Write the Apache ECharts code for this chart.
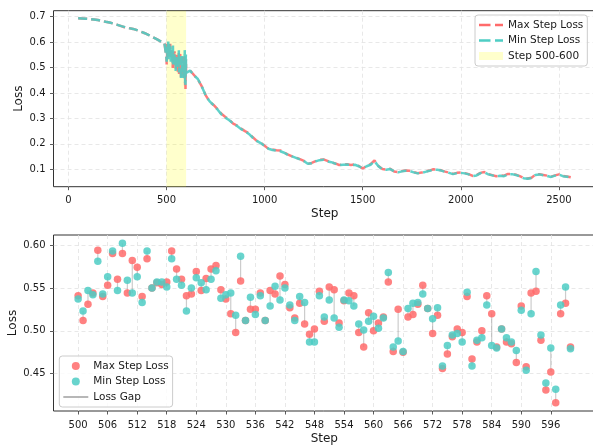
<!DOCTYPE html>
<html><head><meta charset="utf-8">
<script src="https://cdn.jsdelivr.net/npm/echarts@6/dist/echarts.min.js"></script>
<style>html,body{margin:0;padding:0;background:#fff}#c{width:593px;height:445px}</style>
</head><body><div id="c"></div>
<script>
// ---------- data ----------
const preSteps = [50,70,90,110,130,150,170,190,210,230,250,270,290,310,330,350,370,390,410,430,450,470,490];
const preMax = [0.694,0.693,0.692,0.691,0.689,0.687,0.684,0.680,0.677,0.673,0.668,0.663,0.657,0.655,0.652,0.647,0.641,0.635,0.628,0.620,0.612,0.603,0.594];
const preMin = [0.694,0.693,0.692,0.691,0.689,0.687,0.684,0.680,0.677,0.673,0.668,0.663,0.659,0.655,0.652,0.647,0.641,0.635,0.628,0.620,0.612,0.603,0.594];

const postSteps = [620,640,660,680,700,720,740,760,780,800,820,840,860,880,900,920,940,960,980,1000,
  1020,1040,1060,1080,1100,1120,1140,1160,1180,1200,1220,1240,1260,1280,1300,1320,1340,1360,1380,1400,
  1420,1440,1460,1480,1500,1520,1540,1560,1580,1600,1620,1640,1660,1680,1700,1720,1740,1760,1780,1800,
  1820,1840,1860,1880,1900,1920,1940,1960,1980,2000,2020,2040,2060,2080,2100,2120,2140,2160,2180,2200,
  2220,2240,2260,2280,2300,2320,2340,2360,2380,2400,2420,2440,2460,2480,2500,2520,2540,2560];
const postMin = [0.488,0.470,0.455,0.425,0.390,0.367,0.352,0.335,0.316,0.303,0.293,0.280,0.270,0.258,0.250,0.239,0.224,0.212,0.203,0.192,
  0.181,0.176,0.174,0.171,0.165,0.156,0.151,0.145,0.139,0.133,0.122,0.124,0.131,0.136,0.138,0.131,0.128,0.122,0.116,0.118,
  0.119,0.116,0.118,0.112,0.104,0.112,0.118,0.132,0.112,0.100,0.098,0.101,0.092,0.088,0.092,0.094,0.093,0.088,0.084,0.086,
  0.090,0.094,0.099,0.098,0.095,0.090,0.086,0.081,0.085,0.086,0.084,0.080,0.073,0.076,0.085,0.088,0.080,0.076,0.072,0.075,
  0.073,0.080,0.081,0.078,0.072,0.065,0.063,0.066,0.078,0.080,0.077,0.074,0.070,0.075,0.079,0.073,0.071,0.068];
const postMax = [0.489,0.471,0.453,0.426,0.391,0.366,0.353,0.337,0.318,0.306,0.295,0.280,0.272,0.260,0.250,0.242,0.226,0.212,0.204,0.193,
  0.180,0.178,0.175,0.174,0.166,0.158,0.151,0.146,0.140,0.133,0.121,0.125,0.132,0.137,0.139,0.133,0.127,0.123,0.117,0.119,
  0.120,0.117,0.119,0.113,0.103,0.113,0.120,0.135,0.113,0.101,0.099,0.102,0.091,0.089,0.093,0.095,0.094,0.089,0.085,0.087,
  0.091,0.095,0.100,0.099,0.096,0.091,0.087,0.082,0.086,0.087,0.085,0.081,0.074,0.077,0.086,0.089,0.081,0.077,0.073,0.076,
  0.075,0.082,0.082,0.079,0.073,0.066,0.064,0.067,0.079,0.081,0.078,0.075,0.071,0.076,0.080,0.074,0.072,0.069];

const winSteps = [500,501,502,503,504,505,506,507,508,509,510,511,512,513,514,515,516,517,518,519,
  520,521,522,523,524,525,526,527,528,529,530,531,532,533,534,535,536,537,538,539,
  540,541,542,543,544,545,546,547,548,549,550,551,552,553,554,555,556,557,558,559,
  560,561,562,563,564,565,566,567,568,569,570,571,572,573,574,575,576,577,578,579,
  580,581,582,583,584,585,586,587,588,589,590,591,592,593,594,595,596,597,598,599,600];
const winMax = [0.541,0.512,0.531,0.544,0.594,0.540,0.553,0.590,0.560,0.590,0.544,0.582,0.574,0.540,0.584,0.550,0.556,0.554,0.557,0.593,
  0.572,0.560,0.541,0.543,0.569,0.547,0.561,0.572,0.576,0.548,0.537,0.520,0.498,0.558,0.512,0.525,0.525,0.544,0.512,0.547,
  0.543,0.564,0.554,0.527,0.515,0.532,0.508,0.496,0.502,0.546,0.511,0.551,0.548,0.509,0.535,0.544,0.541,0.498,0.481,0.521,
  0.500,0.509,0.516,0.557,0.476,0.525,0.475,0.516,0.519,0.531,0.553,0.526,0.497,0.518,0.456,0.473,0.493,0.502,0.498,0.540,
  0.467,0.487,0.500,0.541,0.520,0.481,0.502,0.487,0.485,0.463,0.529,0.458,0.544,0.546,0.489,0.431,0.452,0.416,0.520,0.532,0.481];
const winMin = [0.537,0.523,0.547,0.542,0.581,0.543,0.563,0.593,0.547,0.602,0.559,0.544,0.563,0.533,0.593,0.550,0.557,0.557,0.551,0.584,
  0.560,0.553,0.523,0.550,0.562,0.556,0.548,0.560,0.570,0.538,0.542,0.544,0.518,0.587,0.512,0.539,0.519,0.541,0.512,0.529,
  0.552,0.536,0.550,0.530,0.512,0.540,0.533,0.487,0.487,0.541,0.516,0.536,0.515,0.504,0.536,0.535,0.529,0.508,0.501,0.511,
  0.517,0.503,0.515,0.568,0.481,0.488,0.476,0.526,0.532,0.533,0.543,0.526,0.514,0.527,0.459,0.483,0.495,0.497,0.487,0.545,
  0.459,0.489,0.492,0.530,0.483,0.480,0.502,0.492,0.487,0.477,0.524,0.454,0.520,0.569,0.495,0.439,0.480,0.432,0.530,0.551,0.479];

const bandRange = [500, 600];
const topXTicks = [0,500,1000,1500,2000,2500];
const topYTicks = [0.1,0.2,0.3,0.4,0.5,0.6,0.7];
const botXTicks = [500,506,512,518,524,530,536,542,548,554,560,566,572,578,584,590,596];
const botYTicks = [0.45,0.50,0.55,0.60];

// ---------- build ----------
const RED = '#FF6B6B', TEAL = '#4ECDC4';
function pairs(xs, ys){ return xs.map((x,i)=>[x, ys[i]]); }
const topMaxData = pairs(preSteps,preMax).concat(pairs(winSteps,winMax), pairs(postSteps,postMax));
const topMinData = pairs(preSteps,preMin).concat(pairs(winSteps,winMin), pairs(postSteps,postMin));
const gapData = [];
winSteps.forEach((s,i)=>{ gapData.push([s, winMax[i]], [s, winMin[i]], [s, null]); });

const FONT = 'DejaVu Sans';
const DASH_ICON = 'path://M0,0h11.5v2.6h-11.5z M16,0h8v2.6h-8z';
const GAP_ICON = 'path://M0,0h25v1.4h-25z';
function axis(extra){
  return Object.assign({
    type:'value',
    axisLine:{show:false, onZero:false},
    splitLine:{show:true, lineStyle:{color:'#e2e2e2', type:[4,3], width:0.8}},
    nameMoveOverlap:false,
    nameTextStyle:{fontSize:12, color:'#1a1a1a', fontFamily:FONT},
  }, extra);
}
const lbl = (vals, fmt, margin) => ({customValues: vals, color:'#1a1a1a', fontSize:10, fontFamily:FONT, margin: margin, formatter: fmt});
const tck = (vals) => ({show:true, customValues: vals, length:3.5, lineStyle:{color:'#333', width:0.8}});

const gridCommon = {show:true, borderColor:'#333', borderWidth:1, backgroundColor:'transparent', containLabel:false, outerBoundsMode:'none'};
const legendCommon = {
  orient:'vertical', padding:[4,4,4,4], itemGap:3.5, selectedMode:false,
  backgroundColor:'rgba(255,255,255,0.8)', borderColor:'#cccccc', borderWidth:1, borderRadius:3,
  textStyle:{fontSize:10.5, color:'#1a1a1a', fontFamily:FONT, lineHeight:12}
};

const option = {
  animation:false,
  backgroundColor:'#fff',
  grid:[
    Object.assign({left:53.5, top:10.7, width:542.5, height:176}, gridCommon),
    Object.assign({left:53.5, top:235, width:541.6, height:176}, gridCommon)
  ],
  xAxis:[
    axis({gridIndex:0, min:-75.7, max:2688.7, name:'Step', nameLocation:'middle', nameGap:21,
      axisLabel:lbl(topXTicks, v=>String(Math.round(v)), 9), axisTick:tck(topXTicks)}),
    axis({gridIndex:1, min:495, max:605, name:'Step', nameLocation:'middle', nameGap:22,
      axisLabel:lbl(botXTicks, v=>String(Math.round(v)), 9), axisTick:tck(botXTicks)})
  ],
  yAxis:[
    axis({gridIndex:0, min:0.0316, max:0.7236, name:'Loss', nameLocation:'middle', nameGap:29,
      axisLabel:lbl(topYTicks, v=>v.toFixed(1), 8), axisTick:tck(topYTicks)}),
    axis({gridIndex:1, min:0.4065, max:0.6117, name:'Loss', nameLocation:'middle', nameGap:35,
      axisLabel:lbl(botYTicks, v=>v.toFixed(2), 8), axisTick:tck(botYTicks)})
  ],
  legend:[
    Object.assign({left:475, top:15, itemWidth:24, itemHeight:8,
      data:[{name:'Max Step Loss', icon:DASH_ICON},{name:'Min Step Loss', icon:DASH_ICON},
            {name:'Step 500-600', icon:'rect', itemStyle:{color:'#FFFFCC', borderWidth:0}}]}, legendCommon),
    Object.assign({left:59.3, top:356, itemWidth:25, itemHeight:8,
      formatter: n => n.split(' (')[0],
      data:[{name:'Max Step Loss (per step)'},{name:'Min Step Loss (per step)'},
            {name:'Loss Gap', icon:GAP_ICON, itemStyle:{color:'#999999', opacity:1}}]}, legendCommon)
  ],
  series:[
    {name:'Step 500-600', type:'line', xAxisIndex:0, yAxisIndex:0, data:[], z:1, symbol:'none',
      lineStyle:{color:'#FFFFCC'}, itemStyle:{color:'#FFFFCC'},
      markArea:{silent:true, itemStyle:{color:'rgba(255,255,0,0.2)'},
        data:[[{xAxis:bandRange[0]},{xAxis:bandRange[1]}]]}},
    {name:'Max Step Loss', type:'line', xAxisIndex:0, yAxisIndex:0, data:topMaxData, symbol:'none', z:2,
      lineStyle:{color:RED, width:2.5, type:[9,4], opacity:0.9}, itemStyle:{color:RED}},
    {name:'Min Step Loss', type:'line', xAxisIndex:0, yAxisIndex:0, data:topMinData, symbol:'none', z:3,
      lineStyle:{color:TEAL, width:2.5, type:[9,4], opacity:0.9}, itemStyle:{color:TEAL}},
    {name:'Loss Gap', type:'line', xAxisIndex:1, yAxisIndex:1, data:gapData, symbol:'none', connectNulls:false, z:2,
      lineStyle:{color:'rgba(128,128,128,0.4)', width:1.2}, itemStyle:{color:'#999'}},
    {name:'Max Step Loss (per step)', type:'scatter', xAxisIndex:1, yAxisIndex:1, data:pairs(winSteps,winMax),
      symbolSize:7.5, z:3, itemStyle:{color:RED, opacity:0.85}},
    {name:'Min Step Loss (per step)', type:'scatter', xAxisIndex:1, yAxisIndex:1, data:pairs(winSteps,winMin),
      symbolSize:7.5, z:4, itemStyle:{color:TEAL, opacity:0.85}}
  ]
};
const chart = echarts.init(document.getElementById('c'), null, {renderer:'canvas'});
chart.setOption(option);
</script></body></html>
